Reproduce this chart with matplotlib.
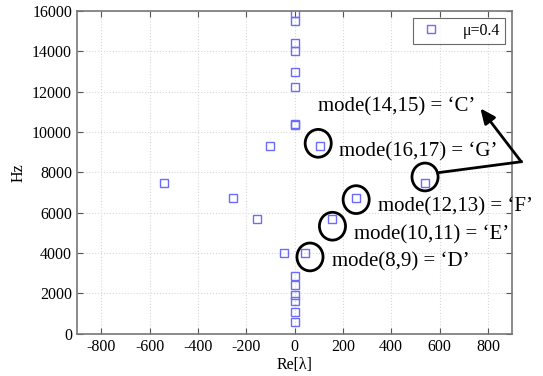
import matplotlib
matplotlib.use('Agg')
import matplotlib.pyplot as plt
from matplotlib.patches import Ellipse
import numpy as np

# eigenvalues: real part vs frequency (Hz)
re_axis = [0, 0, 0, 0, 0, 0, 0, 0, 0, 0, 0, 0, 0, 0]
hz_axis = [15915, 15518, 14427, 14030, 12960, 12246, 10420, 10360,
           2861, 2414, 1904, 1636, 1076, 565]
re_left = [-540, -255, -157, -44, -101]
hz_left = [7471, 6728, 5680, 3986, 9290]
re_right = [540, 255, 157, 44, 104]
hz_right = [7471, 6728, 5680, 3986, 9290]

circled_re = [44, 157, 255, 540, 104]
circled_hz = [3986, 5680, 6728, 7471, 9290]
mode_labels = ["mode(8,9) = \u2018D\u2019", "mode(10,11) = \u2018E\u2019",
               "mode(12,13) = \u2018F\u2019", "mode(14,15) = \u2018C\u2019",
               "mode(16,17) = \u2018G\u2019"]
label_pos = [(157, 3570), (247, 4893), (344, 6296), (99, 11254), (185, 9023)]

plt.rcParams['font.family'] = ['Liberation Serif', 'DejaVu Serif']
plt.rcParams['axes.unicode_minus'] = False

fig = plt.figure(figsize=(5.43, 3.76), dpi=100)
ax = fig.add_axes([0.1418, 0.1125, 0.8012, 0.8582])

re_all = re_axis + re_left + re_right
hz_all = hz_axis + hz_left + hz_right
ax.plot(re_all, hz_all, 's', ls='none', ms=5.2, mfc='none', mec='#6b6bff',
        mew=1.0, label='\u03bc=0.4', zorder=3)

# circles around the mode pairs (slightly offset as in original)
offsets = [(20, -180), (0, -350), (0, -80), (0, 300), (-6, 150)]
for (x, y), (dx, dy) in zip(zip(circled_re, circled_hz), offsets):
    ax.add_patch(Ellipse((x + dx, y + dy), width=108, height=1380,
                         fill=False, ec='black', lw=2.0, zorder=4))

for txt, (x, y) in zip(mode_labels, label_pos):
    ax.text(x, y, txt, fontsize=15, va='center', ha='left', zorder=5)

# arrow from C circle to label
ax.plot([593, 938], [7982, 8527], color='black', lw=2.0, clip_on=False, zorder=5)
ax.annotate('', xy=(769, 11175), xytext=(938, 8527),
            arrowprops=dict(arrowstyle='-|>,head_length=0.9,head_width=0.4',
                            color='black', lw=2.0, shrinkA=0, shrinkB=0),
            annotation_clip=False, zorder=5)

ax.set_xlim(-900, 900)
ax.set_ylim(0, 16000)
ax.set_xticks(np.arange(-800, 801, 200))
ax.set_yticks(np.arange(0, 16001, 2000))
ax.grid(True, color='#d8d8d8', ls=':', lw=0.8)
ax.tick_params(direction='in', top=True, right=True, labelsize=11.5,
               color='#555555', length=4)
for s in ax.spines.values():
    s.set_color('#777777')
    s.set_linewidth(1.2)

ax.set_xlabel('Re[\u03bb]', fontsize=11.5, labelpad=2)
ax.set_ylabel('Hz', fontsize=11.5, labelpad=4)

leg = ax.legend(loc='upper right', fontsize=11.5, frameon=True, fancybox=False,
                edgecolor='#444444', handlelength=1.6, handletextpad=1.2,
                borderpad=0.3, borderaxespad=0,
                bbox_to_anchor=(0.984, 0.978))
leg.get_frame().set_linewidth(0.8)

fig.savefig('out.png', dpi=100)
